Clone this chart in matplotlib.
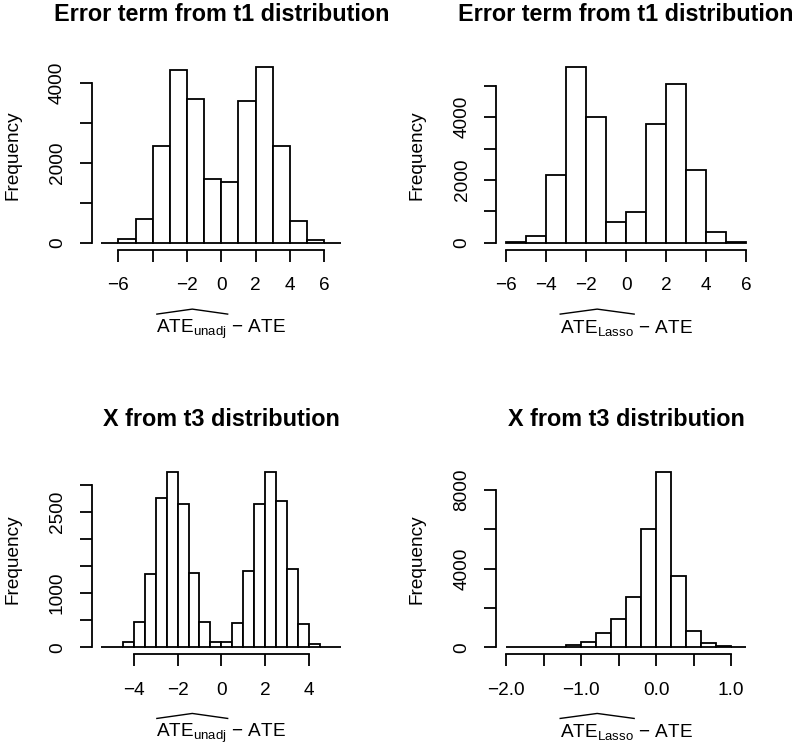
import numpy as np
import matplotlib
matplotlib.use("Agg")
import matplotlib.pyplot as plt
from matplotlib.lines import Line2D

plt.rcParams['font.family'] = ['Liberation Sans', 'DejaVu Sans']
plt.rcParams['mathtext.fontset'] = 'custom'
plt.rcParams['mathtext.rm'] = 'Liberation Sans'
plt.rcParams['mathtext.it'] = 'Liberation Sans:italic'
plt.rcParams['mathtext.bf'] = 'Liberation Sans:bold'

# histogram counts
edges1 = np.arange(-7, 7.01, 1.0)
counts1 = [4, 83, 583, 2417, 4308, 3583, 1592, 1508, 3550, 4400, 2408, 542, 67, 3]

edges2 = np.arange(-6, 6.01, 1.0)
counts2 = [10, 223, 2155, 5605, 4002, 669, 977, 3769, 5053, 2304, 329, 32]

edges3 = np.arange(-5.5, 5.51, 0.5)
counts3 = [4, 12, 92, 467, 1353, 2749, 3235, 2638, 1371, 467, 92,
           105, 443, 1402, 2645, 3235, 2700, 1439, 437, 68, 12, 3]

edges4 = np.arange(-2.0, 1.21, 0.2)
counts4 = [1, 2, 5, 30, 118, 288, 744, 1438, 2555, 6023, 8917, 3604, 829, 237, 51, 10]

# ticks and labels
xt1 = [-6, -4, -2, 0, 2, 4, 6]
xl1 = ['\u22126', '', '\u22122', '0', '2', '4', '6']
yt1 = [0, 1000, 2000, 3000, 4000]
yl1 = ['0', '', '2000', '', '4000']

xt2 = [-6, -4, -2, 0, 2, 4, 6]
xl2 = ['\u22126', '\u22124', '\u22122', '0', '2', '4', '6']
yt2 = [0, 1000, 2000, 3000, 4000, 5000]
yl2 = ['0', '', '2000', '', '4000', '']

xt3 = [-4, -2, 0, 2, 4]
xl3 = ['\u22124', '\u22122', '0', '2', '4']
yt3 = [0, 500, 1000, 1500, 2000, 2500, 3000]
yl3 = ['0', '', '1000', '', '', '2500', '']

xt4 = [-2.0, -1.5, -1.0, -0.5, 0.0, 0.5, 1.0]
xl4 = ['\u22122.0', '', '\u22121.0', '', '0.0', '', '1.0']
yt4 = [0, 2000, 4000, 6000, 8000]
yl4 = ['0', '', '4000', '', '8000']

title_top = "Error term from t1 distribution"
title_bot = "X from t3 distribution"
sub_unadj = r'$\mathrm{ATE}_{\mathrm{unadj}}$'
sub_lasso = r'$\mathrm{ATE}_{\mathrm{Lasso}}$'
tail = r'$\ \mathrm{-}\ \mathrm{ATE}$'

W, H = 793, 748
fig = plt.figure(figsize=(W / 100, H / 100), dpi=100)

lw = 1.3
fs = 13.7
labels = []


def panel(rect, edges, counts, xt, xl, yt, yl, title, est):
    ax = fig.add_axes(rect)
    lo, hi = edges[0], edges[-1]
    ax.bar(edges[:-1], counts, width=np.diff(edges), align='edge',
           color='white', edgecolor='black', linewidth=lw)
    top = max(counts)
    ax.set_xlim(lo - 0.04 * (hi - lo), hi + 0.04 * (hi - lo))
    ax.set_ylim(-0.04 * top, top * 1.04)
    for s in ['top', 'right']:
        ax.spines[s].set_visible(False)
    ax.spines['left'].set_bounds(yt[0], yt[-1])
    ax.spines['bottom'].set_bounds(xt[0], xt[-1])
    ax.spines['left'].set_linewidth(lw)
    ax.spines['bottom'].set_linewidth(lw)
    ax.set_xticks(xt)
    ax.set_xticklabels(xl)
    ax.set_yticks(yt)
    ax.set_yticklabels(yl, rotation=90, va='center')
    ax.tick_params(length=8.6, width=lw, labelsize=fs, direction='out')
    ax.tick_params(axis='x', pad=11)
    ax.tick_params(axis='y', pad=10)
    ax.text(0.5, 1.205, title, transform=ax.transAxes, ha='center',
            va='baseline', fontsize=16.8, fontweight='bold')
    full = ax.text(0.5, -0.437, est[:-1] + tail[1:], transform=ax.transAxes,
                   ha='center', va='baseline', fontsize=fs)
    part = ax.text(0.5, -0.437, est, transform=ax.transAxes, ha='center',
                   va='baseline', fontsize=fs, alpha=0)
    labels.append((ax, full, part))
    ax.text(-0.2875, 0.5, 'Frequency', transform=ax.transAxes, rotation=90,
            rotation_mode='anchor', ha='center', va='baseline', fontsize=fs)
    return ax


wd = 259.4 / W
panel([91.6 / W, 1 - 249.7 / H, wd, 190 / H], edges1, counts1,
      xt1, xl1, yt1, yl1, title_top, sub_unadj)
panel([496.4 / W, 1 - 249.7 / H, wd, 190 / H], edges2, counts2,
      xt2, xl2, yt2, yl2, title_top, sub_lasso)
panel([91.6 / W, 1 - 654.3 / H, wd, 189.4 / H], edges3, counts3,
      xt3, xl3, yt3, yl3, title_bot, sub_unadj)
panel([496.4 / W, 1 - 654.3 / H, wd, 189.4 / H], edges4, counts4,
      xt4, xl4, yt4, yl4, title_bot, sub_lasso)

# wide hat over the estimator, drawn as a thin line like R's plotmath
fig.canvas.draw()
r = fig.canvas.get_renderer()
cap = 0.716 * fs * 100 / 72
for ax, full, part in labels:
    bf = full.get_window_extent(r)
    bp = part.get_window_extent(r)
    x0 = bf.x0 + 0.5
    x1 = x0 + bp.width
    base = ax.transAxes.transform((0.5, -0.437))[1]
    y0 = base + cap + 5
    fig.add_artist(Line2D([x0 / W, (x0 + x1) / 2 / W, x1 / W],
                          [y0 / H, (y0 + 5) / H, y0 / H],
                          transform=fig.transFigure, color='black', lw=1.0))
    part.remove()

fig.savefig("out.png", dpi=100, facecolor='white')
